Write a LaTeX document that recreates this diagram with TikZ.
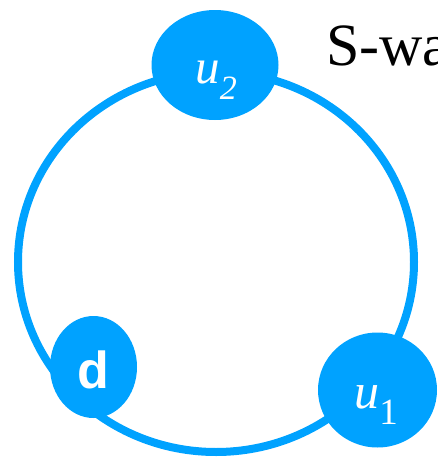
\documentclass[tikz,border=0pt]{standalone}
\usepackage{fontspec}
\setmainfont{Liberation Serif}
\newfontfamily\sansfam{Liberation Sans}
\usetikzlibrary{shapes.geometric}
\definecolor{nodeblue}{RGB}{0,162,255}
\begin{document}
\begin{tikzpicture}[x=1pt,y=-1pt,
  blob/.style={ellipse, fill=nodeblue, draw=none, inner sep=0pt},
  lbl/.style={text=white, inner sep=0pt, anchor=base},
  ring/.style={draw=nodeblue, line width=8pt}]
\useasboundingbox (0,0) rectangle (438,458);
\clip (0,0) rectangle (438,458);
\draw[ring] (216,262) ellipse [x radius=198, y radius=190];
\node[blob, minimum width=127pt, minimum height=110pt] (u2) at (215,65) {};
\node[blob, minimum width=87pt, minimum height=102pt] (d) at (93.5,367) {};
\node[blob, minimum width=119pt, minimum height=115pt] (u1) at (377.5,390) {};
\node[lbl] (u2t) at (216,83) {\fontsize{49}{49}\selectfont\itshape u\raisebox{-16pt}{\fontsize{34}{34}\selectfont 2}};
\node[lbl] (u1t) at (376,408) {\fontsize{50}{50}\selectfont\itshape u\raisebox{-16pt}{\upshape\fontsize{37}{37}\selectfont 1}};
\node[lbl] (dt) at (93,388) {\fontsize{52}{52}\selectfont\sansfam\bfseries d};
\node[anchor=base west, inner sep=0pt] (title) at (326,65) {\fontsize{60}{60}\selectfont S-wa};
\end{tikzpicture}
\end{document}
